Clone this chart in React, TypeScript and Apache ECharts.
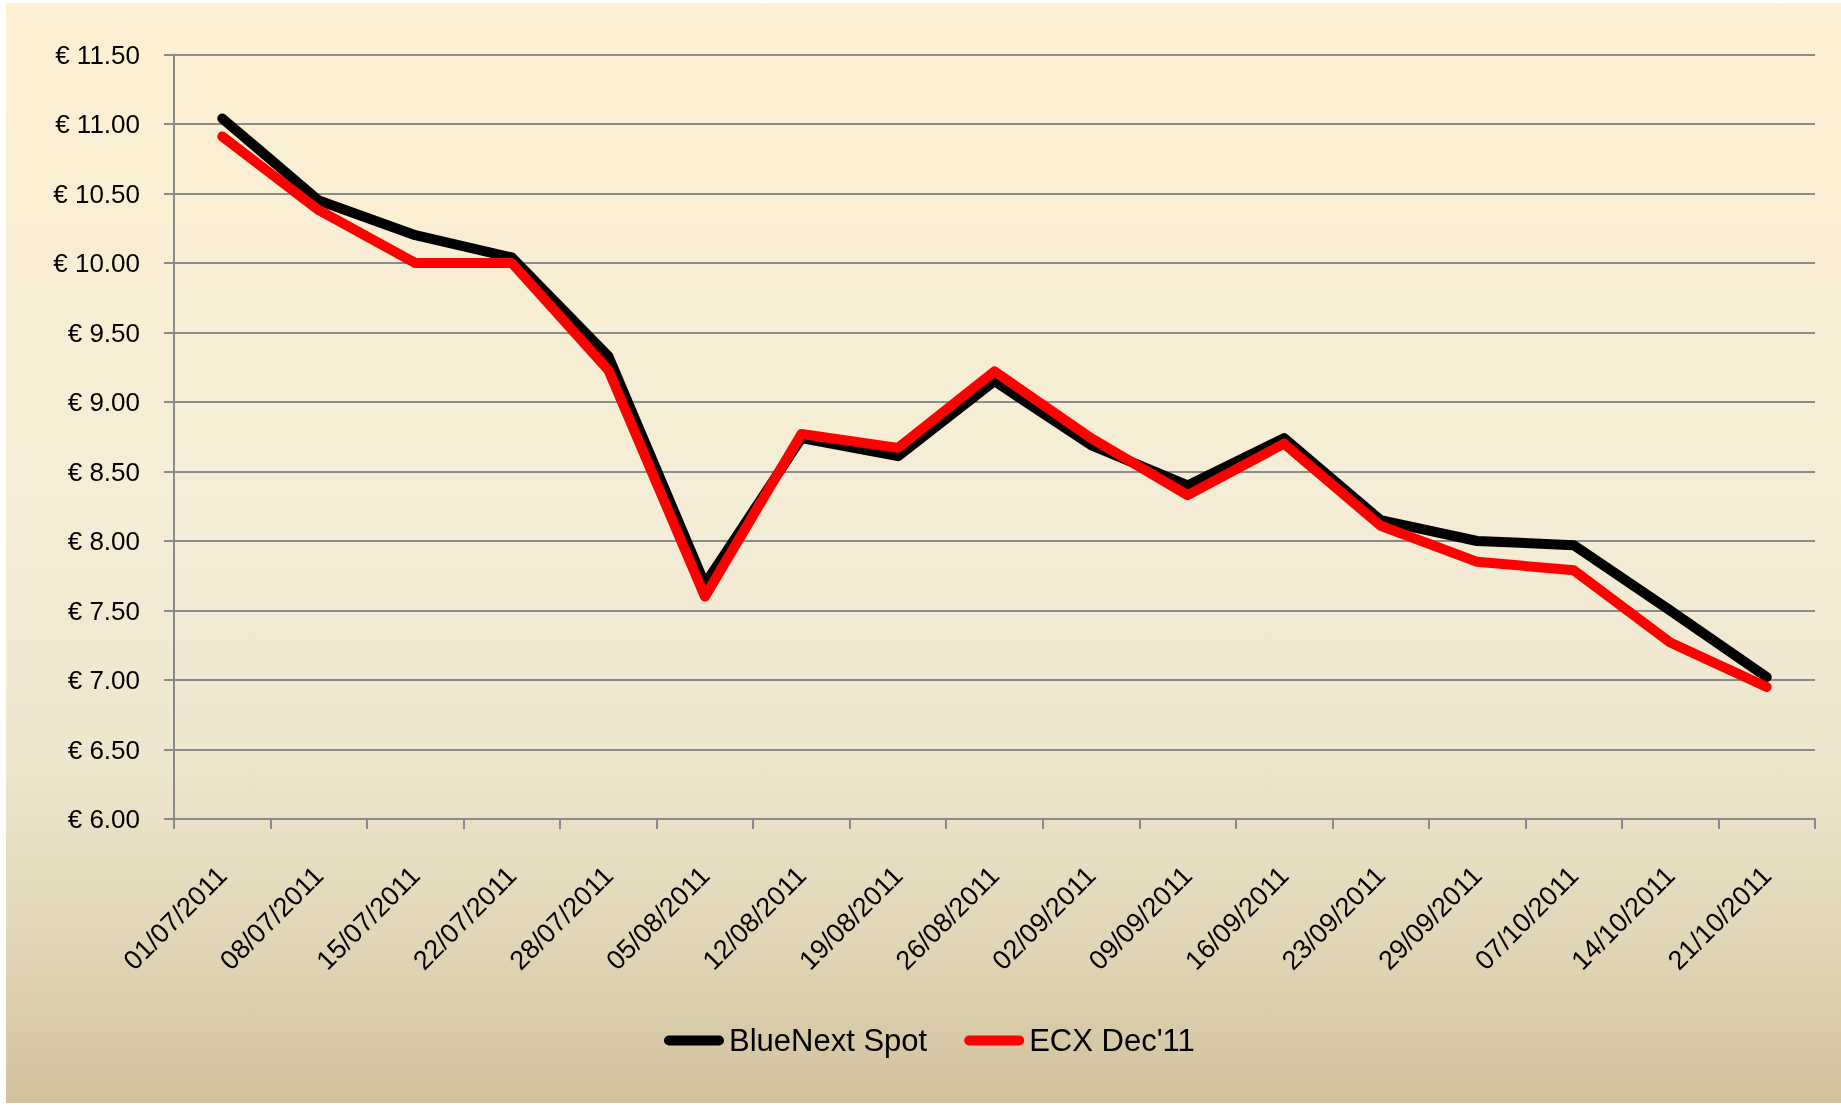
import React, { useEffect, useRef } from "react";
import * as echarts from "echarts";

const categories = [
  "01/07/2011", "08/07/2011", "15/07/2011", "22/07/2011", "28/07/2011",
  "05/08/2011", "12/08/2011", "19/08/2011", "26/08/2011", "02/09/2011",
  "09/09/2011", "16/09/2011", "23/09/2011", "29/09/2011", "07/10/2011",
  "14/10/2011", "21/10/2011",
];

const blueNextSpot = [
  11.04, 10.45, 10.2, 10.04, 9.33, 7.69, 8.74, 8.61, 9.15, 8.69, 8.4, 8.74,
  8.15, 8.0, 7.97, 7.5, 7.02,
];

const ecxDec11 = [
  10.91, 10.38, 10.0, 10.0, 9.23, 7.6, 8.77, 8.67, 9.22, 8.74, 8.33, 8.7,
  8.11, 7.85, 7.79, 7.27, 6.95,
];

const seriesNames = ["BlueNext Spot", "ECX Dec'11"];
const yMin = 6;
const yMax = 11.5;
const yStep = 0.5;

const FONT = "'Liberation Sans', Arial, sans-serif";
const pill = "path://M5,0 L55,0 A5,5 0 0 1 55,10 L5,10 A5,5 0 0 1 5,0 Z";

export default function App() {
  const ref = useRef<HTMLDivElement>(null);

  useEffect(() => {
    if (!ref.current) return;
    const chart = echarts.init(ref.current, undefined, { renderer: "svg" });
    chart.setOption({
      animation: false,
      graphic: {
        elements: [
          {
            type: "rect",
            z: -100,
            silent: true,
            shape: { x: 6, y: 3, width: 1835, height: 1100 },
            style: {
              fill: new echarts.graphic.LinearGradient(0, 0, 0, 1, [
                { offset: 0, color: "#FEF0D2" },
                { offset: 0.45, color: "#F5EDD6" },
                { offset: 0.7, color: "#EDE5CC" },
                { offset: 0.85, color: "#E1D6B6" },
                { offset: 1, color: "#D2C29E" },
              ]),
            },
          },
        ],
      },
      grid: { left: 174, right: 26, top: 54.5, bottom: 286, containLabel: false },
      legend: {
        left: 659,
        top: 1020,
        itemWidth: 60,
        itemHeight: 10,
        itemGap: 37,
        textStyle: { fontFamily: FONT, fontSize: 31, color: "#000" },
        data: [
          { name: seriesNames[0], icon: pill, itemStyle: { color: "#000000" } },
          { name: seriesNames[1], icon: pill, itemStyle: { color: "#FF0000" } },
        ],
      },
      xAxis: {
        type: "category",
        data: categories,
        boundaryGap: true,
        axisLine: { show: true, lineStyle: { color: "#8A8A8A", width: 2 } },
        axisTick: {
          show: true,
          length: 10,
          interval: 0,
          lineStyle: { color: "#8A8A8A", width: 2 },
        },
        axisLabel: {
          interval: 0,
          rotate: 45,
          margin: 52,
          fontFamily: FONT,
          fontSize: 27,
          color: "#000",
        },
        splitLine: { show: false },
      },
      yAxis: {
        type: "value",
        min: yMin,
        max: yMax,
        interval: yStep,
        axisLine: { show: true, lineStyle: { color: "#8A8A8A", width: 2 } },
        axisTick: { show: true, length: 10, lineStyle: { color: "#8A8A8A", width: 2 } },
        axisLabel: {
          margin: 34,
          fontFamily: FONT,
          fontSize: 26,
          color: "#000",
          padding: [0, 0, 3, 0],
          formatter: (v: number) => "€ " + v.toFixed(2),
        },
        splitLine: { show: true, lineStyle: { color: "#8C8C8C", width: 2 } },
      },
      series: [
        {
          name: seriesNames[0],
          type: "line",
          data: blueNextSpot,
          showSymbol: false,
          symbol: "none",
          lineStyle: { color: "#000000", width: 10, cap: "round", join: "round" },
          itemStyle: { color: "#000000" },
          z: 2,
        },
        {
          name: seriesNames[1],
          type: "line",
          data: ecxDec11,
          showSymbol: false,
          symbol: "none",
          lineStyle: { color: "#FF0000", width: 10, cap: "round", join: "round" },
          itemStyle: { color: "#FF0000" },
          z: 3,
        },
      ],
    });
    return () => chart.dispose();
  }, []);

  return (
    <div
      ref={ref}
      style={{ position: "fixed", left: 0, top: 0, width: 1841, height: 1105 }}
    />
  );
}
